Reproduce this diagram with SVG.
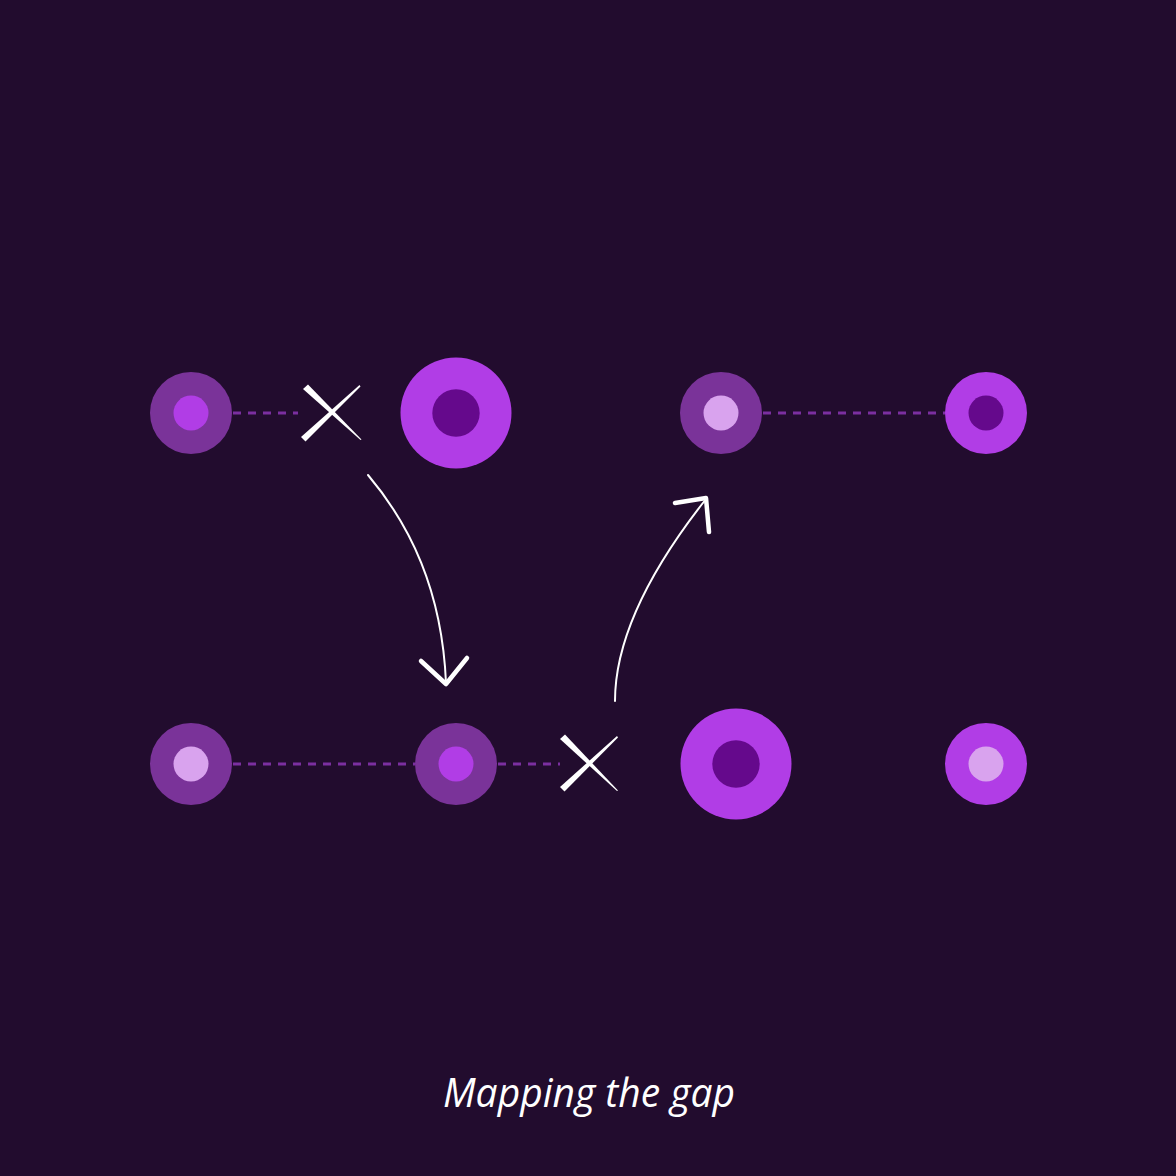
<svg xmlns="http://www.w3.org/2000/svg" width="1176" height="1176" viewBox="0 0 1176 1176">
  <style>
    .dash { stroke: #7B2FA0; stroke-width: 3; stroke-dasharray: 8 7; fill: none; }
    .muted { fill: #7A3399; }
    .bright { fill: #B13DE6; }
    .dark { fill: #65098C; }
    .light { fill: #D9A3EE; }
    .ink { fill: #FFFFFF; }
    .arrow { stroke: #FFFFFF; fill: none; stroke-linecap: round; stroke-linejoin: round; }
    .label { font-family: "Open Sans", "Liberation Sans", sans-serif; font-style: italic; font-size: 40px; fill: #FFFFFF; }
  </style>
  <rect width="1176" height="1176" fill="#220C2E"/>

  <g id="connectors">
    <line class="dash" x1="233" y1="413" x2="298" y2="413"/>
    <line class="dash" x1="763" y1="413" x2="945" y2="413"/>
    <line class="dash" x1="233" y1="764" x2="415" y2="764"/>
    <line class="dash" x1="498" y1="764" x2="560" y2="764"/>
    <g id="arrow-down">
      <path class="arrow" stroke-width="2" d="M368,475 C410,525 442,590 446,683"/>
      <path class="arrow" stroke-width="4.5" d="M421,661 L446,684 L467,658"/>
    </g>
    <g id="arrow-up">
      <path class="arrow" stroke-width="2" d="M615,701 C615,640 650,570 706,499"/>
      <path class="arrow" stroke-width="4.5" d="M675,503 L706,498 L709,532"/>
    </g>
  </g>

  <g id="node-top-1">
    <circle class="muted" cx="191" cy="413" r="41"/>
    <circle class="bright" cx="191" cy="413" r="17.5"/>
  </g>
  <g id="cross-top">
    <path class="ink" d="M301,437 L359.5,385 L360.5,386.5 L305.5,441.5 Z"/>
    <path class="ink" d="M303,389 L308,384.5 L361.5,439.5 L360.5,440 Z"/>
  </g>
  <g id="node-top-2">
    <circle class="bright" cx="456" cy="413" r="55.5"/>
    <circle class="dark" cx="456" cy="413" r="23.7"/>
  </g>
  <g id="node-top-3">
    <circle class="muted" cx="721" cy="413" r="41"/>
    <circle class="light" cx="721" cy="413" r="17.5"/>
  </g>
  <g id="node-top-4">
    <circle class="bright" cx="986" cy="413" r="41"/>
    <circle class="dark" cx="986" cy="413" r="17.5"/>
  </g>

  <g id="node-bottom-1">
    <circle class="muted" cx="191" cy="764" r="41"/>
    <circle class="light" cx="191" cy="764" r="17.5"/>
  </g>
  <g id="node-bottom-2">
    <circle class="muted" cx="456" cy="764" r="41"/>
    <circle class="bright" cx="456" cy="764" r="17.5"/>
  </g>
  <g id="cross-bottom">
    <path class="ink" d="M560,787 L617,736 L618,737.5 L564.5,791.5 Z"/>
    <path class="ink" d="M560,739 L565,734.5 L618,790.5 L617,791 Z"/>
  </g>
  <g id="node-bottom-3">
    <circle class="bright" cx="736" cy="764" r="55.5"/>
    <circle class="dark" cx="736" cy="764" r="23.7"/>
  </g>
  <g id="node-bottom-4">
    <circle class="bright" cx="986" cy="764" r="41"/>
    <circle class="light" cx="986" cy="764" r="17.5"/>
  </g>

  <text class="label" x="589" y="1107" text-anchor="middle" textLength="292" lengthAdjust="spacingAndGlyphs">Mapping the gap</text>
</svg>
